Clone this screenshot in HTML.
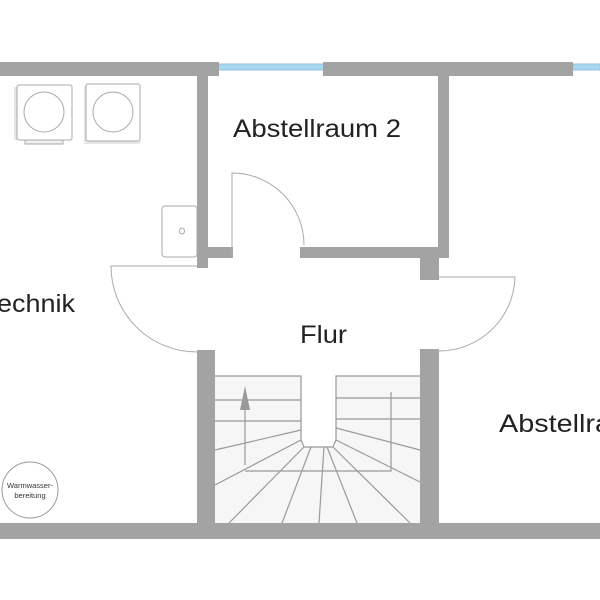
<!DOCTYPE html>
<html><head><style>body{margin:0;background:#fff}svg{display:block}</style></head><body>
<svg width="600" height="600" viewBox="0 0 600 600" xmlns="http://www.w3.org/2000/svg" font-family="Liberation Sans, sans-serif">
<rect width="600" height="600" fill="#fff"/>
<rect x="218" y="64" width="106" height="6" fill="#a9d8ee" stroke="#8fc3dc" stroke-width="1"/>
<rect x="573" y="64" width="27" height="6" fill="#a9d8ee" stroke="#8fc3dc" stroke-width="1"/>
<g fill="#a3a3a3">
<rect x="0" y="62" width="219" height="14"/>
<rect x="323" y="62" width="250" height="14"/>
<rect x="197" y="62" width="11" height="206"/>
<rect x="208" y="247" width="25" height="11"/>
<rect x="438" y="62" width="11" height="196"/>
<rect x="300" y="247" width="149" height="11"/>
<rect x="420" y="258" width="19" height="22"/>
<rect x="197" y="350" width="18" height="175"/>
<rect x="420" y="349" width="19" height="176"/>
<rect x="0" y="523" width="600" height="16"/>
</g>
<g fill="#fff" stroke="#aaa" stroke-width="1">
<rect x="25" y="139" width="38" height="5" fill="#eee"/>
<rect x="14" y="87" width="58" height="53" fill="#e6e6e6" stroke="none"/>
<rect x="17" y="85" width="55" height="55" rx="2"/>
<circle cx="44" cy="112" r="20"/>
<rect x="84" y="86" width="56" height="58" fill="#e6e6e6" stroke="none"/>
<rect x="86" y="84" width="54" height="57" rx="2"/>
<circle cx="113" cy="112" r="20"/>
<rect x="162" y="206" width="35" height="51" rx="3"/>
<ellipse cx="182" cy="231" rx="2.5" ry="3"/>
</g>
<g fill="none" stroke="#aaa" stroke-width="1">
<path d="M232 258 V173 A72 72 0 0 1 304 245"/>
<path d="M197 266 H111 A86 86 0 0 0 197 352"/>
<path d="M439 277 H515 A76 76 0 0 1 439 351"/>
</g>
<rect x="215" y="376" width="205" height="147" fill="#f6f6f6"/>
<rect x="302" y="370" width="34" height="77" fill="#fff"/>
<g stroke="#9a9a9a" stroke-width="1.2" fill="none">
<path d="M215 376 H301 V440 M336 440 V376 H420"/>
<path d="M215 400 H301 M215 421 H301 M336 398 H420 M336 419 H420"/>
<path d="M215 450 L301 430 M215 485 L301 440"/>
<path d="M420 450 L336 428 M420 482 L336 440"/>
<path d="M301 440 L304 447 H333 L336 440"/>
<path d="M229 523 L304 447 M282 523 L311 447 M319 523 L324 447 M357 523 L327 447 M410 523 L333 447"/>
<path d="M245 465 V407 M245 471 H391 V392"/>
</g>
<path d="M245 386 L240 410 H250 Z" fill="#999"/>
<g fill="#222" font-size="25">
<text x="233" y="137" textLength="168" lengthAdjust="spacingAndGlyphs">Abstellraum 2</text>
<text x="300" y="343" textLength="47" lengthAdjust="spacingAndGlyphs">Flur</text>
<text x="-3" y="312" textLength="78" lengthAdjust="spacingAndGlyphs">echnik</text>
<text x="499" y="432" textLength="112" lengthAdjust="spacingAndGlyphs">Abstellra</text>
</g>
<circle cx="30" cy="490" r="28" fill="#fff" stroke="#999" stroke-width="1"/>
<text x="30" y="488" font-size="7.5" text-anchor="middle" fill="#333">Warmwasser-</text>
<text x="30" y="498" font-size="7.5" text-anchor="middle" fill="#333">bereitung</text>
</svg>
</body></html>
